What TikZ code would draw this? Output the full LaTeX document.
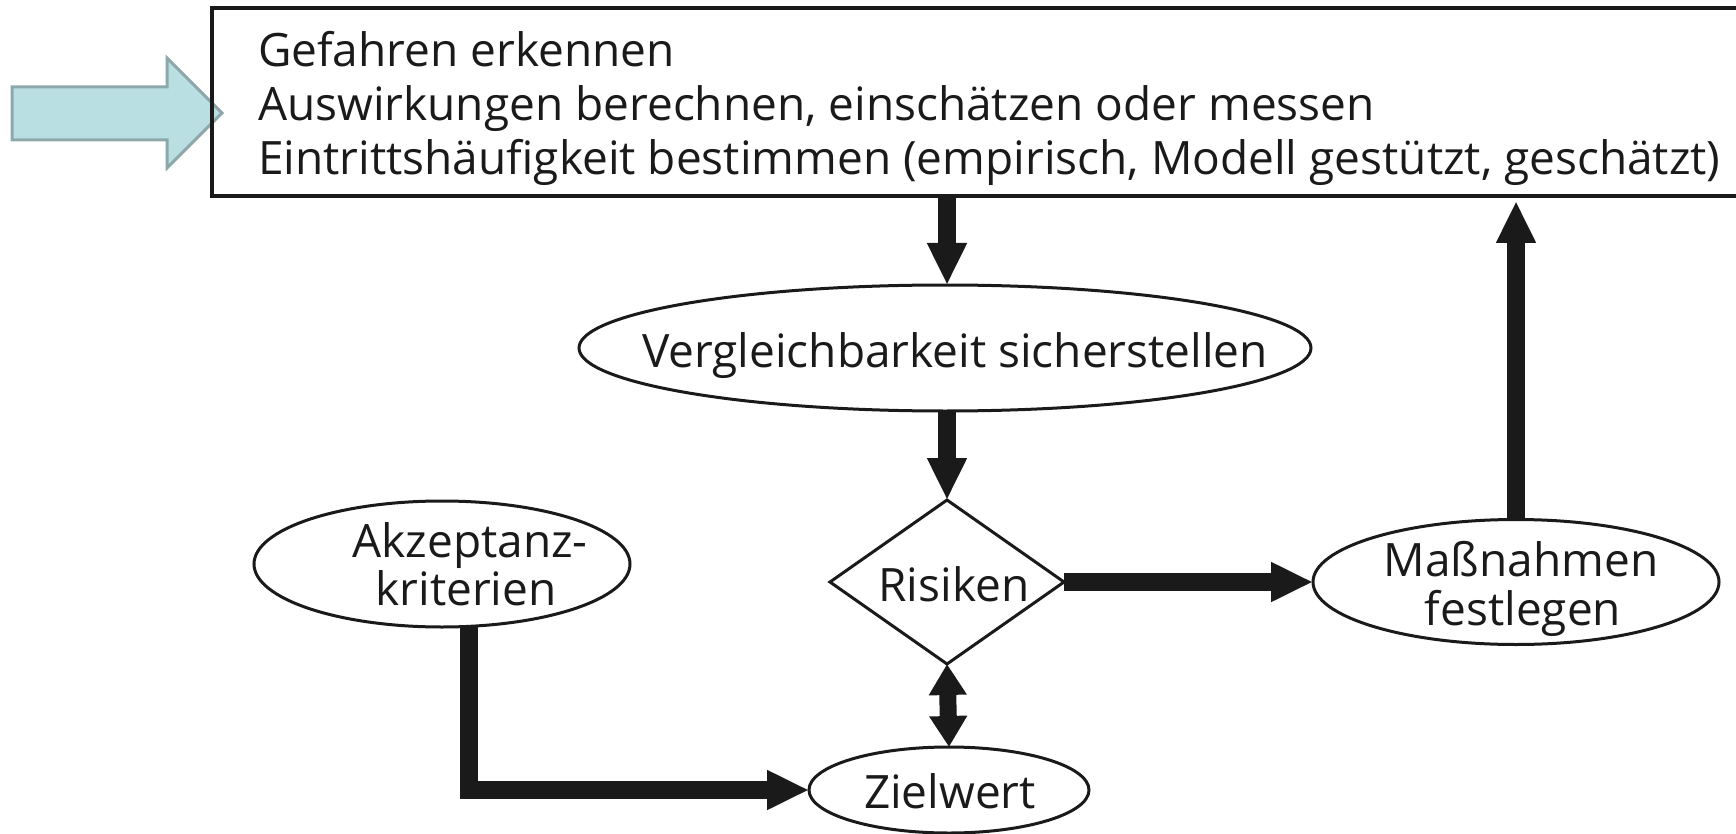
\documentclass[tikz,border=0pt]{standalone}
\usepackage{fontspec}
\setmainfont{Open Sans}
\usetikzlibrary{shapes.geometric,arrows.meta}
\definecolor{ink}{HTML}{1A1A1A}
\definecolor{cyanfill}{HTML}{B9DFE2}
\definecolor{cyanedge}{HTML}{8CA8AA}
\begin{document}
\begin{tikzpicture}[x=1pt,y=-1pt,
  every node/.style={outer sep=0pt, text=ink},
  ell/.style={ellipse, draw=ink, line width=3pt, inner sep=0pt},
  dia/.style={diamond, draw=ink, line width=3pt, inner sep=0pt},
  boxst/.style={rectangle, draw=ink, line width=3.5pt, inner sep=0pt},
  lbl/.style={inner sep=0pt, anchor=base, font=\fontsize{46}{48}\selectfont},
  boxtext/.style={anchor=base west, inner sep=0pt, font=\fontsize{46}{54}\selectfont},
  fat/.style={draw=ink, line width=18pt, -{Triangle[width=37pt,length=42pt]}},
  fatboth/.style={draw=ink, line width=17pt, {Triangle[width=36pt,length=31pt]}-{Triangle[width=36pt,length=31pt]}}
]
\useasboundingbox (0,0) rectangle (1736,834);
% cyan input arrow
\filldraw[fill=cyanfill, draw=cyanedge, line width=3pt, line join=miter]
  (12,87) -- (167,87) -- (167,58) -- (222,113) -- (167,168) -- (167,140) -- (12,140) -- cycle;
% top box
\node[boxst, minimum width=1560pt, minimum height=188pt, anchor=north west] (box) at (212,8) {};
\node[boxtext] (t1) at (258,67) {Gefahren erkennen};
\node[boxtext] (t2) at (258,121) {Auswirkungen berechnen, einschätzen oder messen};
\node[boxtext] (t3) at (258,175) {Eintrittshäufigkeit bestimmen (empirisch, Modell gestützt, geschätzt)};
% shapes
\node[ell, minimum width=732pt, minimum height=126pt] (verg) at (945,348) {};
\node[dia, minimum width=234pt, minimum height=164pt] (risk) at (947,582) {};
\node[ell, minimum width=280pt, minimum height=86pt] (ziel) at (949,790) {};
\node[ell, minimum width=376pt, minimum height=126pt] (akz) at (442,564) {};
\node[ell, minimum width=406pt, minimum height=125pt] (mass) at (1516,582) {};
% labels
\node[lbl] (vergtxt) at (955,367) {Vergleichbarkeit sicherstellen};
\node[lbl] (risktxt) at (954,601) {Risiken};
\node[lbl] (zieltxt) at (950,808) {Zielwert};
\node[lbl] (akztxt1) at (470,557) {Akzeptanz-};
\node[lbl] (akztxt2) at (466,605) {kriterien};
\node[lbl] (masstxt1) at (1521,576) {Maßnahmen};
\node[lbl] (masstxt2) at (1523,625) {festlegen};
% connectors
\draw[fat] (box.south -| risk.north) -- (risk.north |- verg.north);
\draw[fat] (verg.south -| risk.north) -- (risk.north);
\draw[fat] (risk.east) -- (mass.west);
\draw[fatboth] (risk.south) -- (ziel.north);
\draw[fat, line join=miter] ([xshift=27pt]akz.south) |- (ziel.west);
\draw[fat, shorten >=5pt] (mass.north) -- (mass.north |- box.south);
\end{tikzpicture}
\end{document}
